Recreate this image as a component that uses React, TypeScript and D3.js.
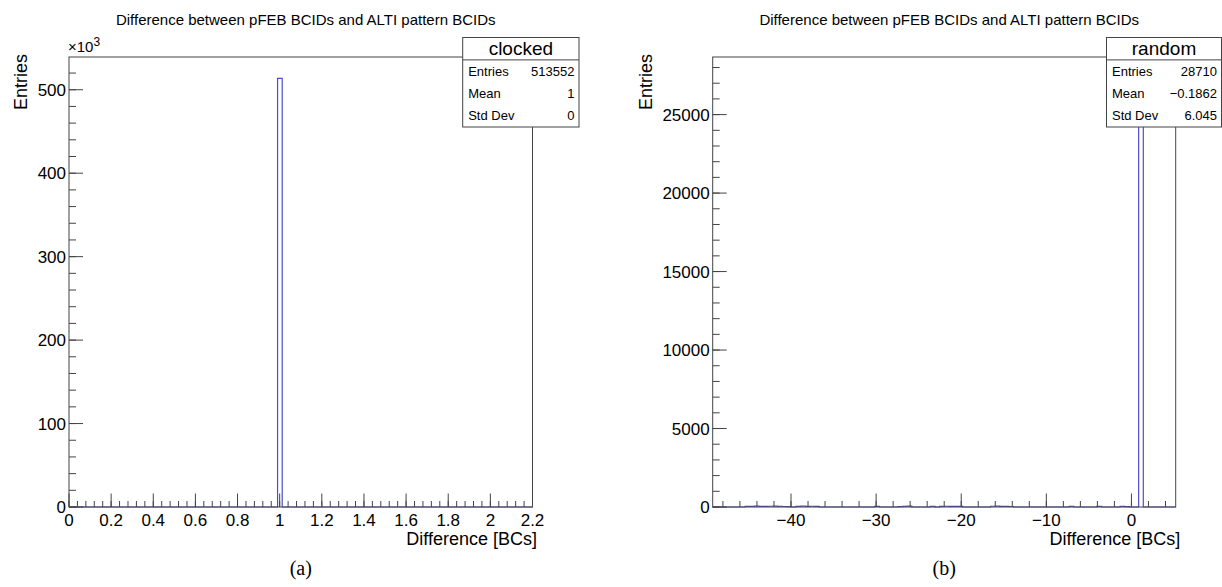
import React from "react";
import * as d3 from "d3";

const titleText = "Difference between pFEB BCIDs and ALTI pattern BCIDs";
const xTitle = "Difference [BCs]";
const yTitle = "Entries";

// ---- panel (a): clocked ----
const clockedRange = [0, 2.2];
const clockedBinWidth = 0.022;
const clockedBinLow = [0.99];
const clockedCounts = [513552];
const clockedYMax = 539230;
const clockedXMajor = [0, 0.2, 0.4, 0.6, 0.8, 1, 1.2, 1.4, 1.6, 1.8, 2, 2.2];
const clockedXLabels = ["0", "0.2", "0.4", "0.6", "0.8", "1", "1.2", "1.4", "1.6", "1.8", "2", "2.2"];
const clockedXMinorStep = 0.04;
const clockedYMajor = [0, 100000, 200000, 300000, 400000, 500000];
const clockedYLabels = ["0", "100", "200", "300", "400", "500"];
const clockedYMinorStep = 20000;
const clockedStatsName = "clocked";
const clockedStatsLabels = ["Entries", "Mean", "Std Dev"];
const clockedStatsValues = ["513552", "1", "0"];

// ---- panel (b): random ----
const randomRange = [-49.2, 5.2];
const randomBinWidth = 0.544;
const randomBinLow = [
  -45.392, -44.848, -44.304, -43.76, -43.216, -42.672, -42.128, -41.584, -41.04, -40.496,
  -39.408, -38.864, -38.32, -37.776, -37.232,
  -30.16,
  -27.44, -26.896, -26.352,
  -23.632,
  -22.544, -22.0, -21.456, -20.912, -20.368,
  -16.56, -16.016, -15.472, -14.928, -14.384,
  -7.312,
  -4.048,
  -1.328, -0.784,
  0.848,
];
const randomCounts = [
  38, 45, 52, 41, 36, 47, 55, 40, 33, 29,
  44, 50, 39, 48, 42,
  35,
  30, 46, 51,
  37,
  43, 49, 40, 34, 38,
  47, 53, 41, 36, 32,
  39,
  44,
  45, 28,
  27303,
];
const randomYMax = 28670;
const randomXMajor = [-40, -30, -20, -10, 0];
const randomXLabels = ["\u221240", "\u221230", "\u221220", "\u221210", "0"];
const randomXMinorStep = 2;
const randomYMajor = [0, 5000, 10000, 15000, 20000, 25000];
const randomYLabels = ["0", "5000", "10000", "15000", "20000", "25000"];
const randomYMinorStep = 1000;
const randomStatsName = "random";
const randomStatsLabels = ["Entries", "Mean", "Std Dev"];
const randomStatsValues = ["28710", "\u22120.1862", "6.045"];

const SANS = "'Liberation Sans', Arial, Helvetica, sans-serif";
const SERIF = "'Liberation Serif', 'Times New Roman', serif";
const FRAME = "#444";
const HIST = "#4d4dcc";

type PanelProps = {
  left: number;
  right: number;
  range: number[];
  binWidth: number;
  binLow: number[];
  counts: number[];
  yMax: number;
  xMajor: number[];
  xLabels: string[];
  xMinorStep: number;
  yMajor: number[];
  yLabels: string[];
  yMinorStep: number;
  statsName: string;
  statsLabels: string[];
  statsValues: string[];
  boxLeft: number;
  boxRight: number;
  yTitleX: number;
  exponent?: boolean;
  caption: string;
};

const TOP = 57;
const BOTTOM = 507;

function Panel(p: PanelProps) {
  const x = d3.scaleLinear().domain(p.range).range([p.left, p.right]);
  const y = d3.scaleLinear().domain([0, p.yMax]).range([BOTTOM, TOP]);
  const nBins = Math.round((p.range[1] - p.range[0]) / p.binWidth);
  const contents = new Array(nBins).fill(0);
  p.binLow.forEach((lo, i) => {
    const idx = Math.round((lo - p.range[0]) / p.binWidth);
    if (idx >= 0 && idx < nBins) contents[idx] = p.counts[i];
  });
  const pts: [number, number][] = [];
  pts.push([x(p.range[0]), y(0)]);
  contents.forEach((c, i) => {
    const lo = p.range[0] + i * p.binWidth;
    pts.push([x(lo), y(c)]);
    pts.push([x(lo + p.binWidth), y(c)]);
  });
  pts.push([x(p.range[1]), y(0)]);
  const path = d3.line()(pts) || "";

  const xMinor: number[] = [];
  const firstMinor = Math.ceil((p.range[0] - 1e-9) / p.xMinorStep) * p.xMinorStep;
  for (let v = firstMinor; v <= p.range[1] + 1e-9; v += p.xMinorStep) xMinor.push(v);
  const yMinor: number[] = [];
  for (let v = 0; v <= p.yMax + 1e-9; v += p.yMinorStep) yMinor.push(v);

  const cx = (p.left + p.right) / 2;
  const boxTop = 37.5;
  const boxBottom = 127;
  const rowH = (boxBottom - boxTop) / 4;

  return (
    <g>
      <text x={cx + 5} y={24.5} fontFamily={SANS} fontSize={15} textAnchor="middle" fill="#000">
        {titleText}
      </text>
      <path d={path} fill="none" stroke={HIST} strokeWidth={1.2} />
      <rect x={p.left} y={TOP} width={p.right - p.left} height={BOTTOM - TOP} fill="none" stroke={FRAME} strokeWidth={1} />
      {xMinor.map((v, i) => (
        <line key={"xm" + i} x1={x(v)} x2={x(v)} y1={BOTTOM} y2={BOTTOM - 6} stroke={FRAME} strokeWidth={1} />
      ))}
      {p.xMajor.map((v, i) => (
        <g key={"xM" + i}>
          <line x1={x(v)} x2={x(v)} y1={BOTTOM} y2={BOTTOM - 13.5} stroke={FRAME} strokeWidth={1} />
          <text x={x(v)} y={526} fontFamily={SANS} fontSize={17} textAnchor="middle" fill="#000">
            {p.xLabels[i]}
          </text>
        </g>
      ))}
      {yMinor.map((v, i) => (
        <line key={"ym" + i} x1={p.left} x2={p.left + 7} y1={y(v)} y2={y(v)} stroke={FRAME} strokeWidth={1} />
      ))}
      {p.yMajor.map((v, i) => (
        <g key={"yM" + i}>
          <line x1={p.left} x2={p.left + 14} y1={y(v)} y2={y(v)} stroke={FRAME} strokeWidth={1} />
          <text x={p.left - 3} y={y(v)} dy="0.36em" fontFamily={SANS} fontSize={17} textAnchor="end" fill="#000">
            {p.yLabels[i]}
          </text>
        </g>
      ))}
      {p.exponent && (
        <text x={p.left - 1} y={51.5} fontFamily={SANS} fontSize={15} fill="#000">
          {"\u00d710"}
          <tspan fontSize={12} dy={-6}>3</tspan>
        </text>
      )}
      <text
        transform={`translate(${p.yTitleX},${TOP - 3}) rotate(-90)`}
        fontFamily={SANS}
        fontSize={18}
        textAnchor="end"
        fill="#000"
      >
        {yTitle}
      </text>
      <text x={p.right + 4.5} y={545} fontFamily={SANS} fontSize={18} textAnchor="end" fill="#000">
        {xTitle}
      </text>
      <rect x={p.boxLeft} y={boxTop} width={p.boxRight - p.boxLeft} height={boxBottom - boxTop} fill="#fff" stroke={FRAME} strokeWidth={1} />
      <line x1={p.boxLeft} x2={p.boxRight} y1={boxTop + rowH} y2={boxTop + rowH} stroke={FRAME} strokeWidth={1} />
      <text x={(p.boxLeft + p.boxRight) / 2} y={boxTop + rowH - 4.5} fontFamily={SANS} fontSize={19} textAnchor="middle" fill="#000">
        {p.statsName}
      </text>
      {p.statsLabels.map((lab, i) => (
        <g key={"st" + i}>
          <text x={p.boxLeft + 5.5} y={boxTop + rowH * (i + 1.5) + 4.5} fontFamily={SANS} fontSize={13} fill="#000">
            {lab}
          </text>
          <text x={p.boxRight - 4.5} y={boxTop + rowH * (i + 1.5) + 4.5} fontFamily={SANS} fontSize={13} textAnchor="end" fill="#000">
            {p.statsValues[i]}
          </text>
        </g>
      ))}
      <text x={cx} y={575} fontFamily={SERIF} fontSize={20} textAnchor="middle" fill="#000">
        {p.caption}
      </text>
    </g>
  );
}

export default function App() {
  return (
    <svg
      width={1222}
      height={587}
      viewBox="0 0 1222 587"
      style={{ position: "fixed", left: 0, top: 0, background: "#fff" }}
    >
      <rect x={0} y={0} width={1222} height={587} fill="#fff" />
      <Panel
        left={69}
        right={532.5}
        range={clockedRange}
        binWidth={clockedBinWidth}
        binLow={clockedBinLow}
        counts={clockedCounts}
        yMax={clockedYMax}
        xMajor={clockedXMajor}
        xLabels={clockedXLabels}
        xMinorStep={clockedXMinorStep}
        yMajor={clockedYMajor}
        yLabels={clockedYLabels}
        yMinorStep={clockedYMinorStep}
        statsName={clockedStatsName}
        statsLabels={clockedStatsLabels}
        statsValues={clockedStatsValues}
        boxLeft={462.7}
        boxRight={579}
        yTitleX={27}
        exponent
        caption="(a)"
      />
      <Panel
        left={712.7}
        right={1175.7}
        range={randomRange}
        binWidth={randomBinWidth}
        binLow={randomBinLow}
        counts={randomCounts}
        yMax={randomYMax}
        xMajor={randomXMajor}
        xLabels={randomXLabels}
        xMinorStep={randomXMinorStep}
        yMajor={randomYMajor}
        yLabels={randomYLabels}
        yMinorStep={randomYMinorStep}
        statsName={randomStatsName}
        statsLabels={randomStatsLabels}
        statsValues={randomStatsValues}
        boxLeft={1106.5}
        boxRight={1221.5}
        yTitleX={652}
        caption="(b)"
      />
    </svg>
  );
}
